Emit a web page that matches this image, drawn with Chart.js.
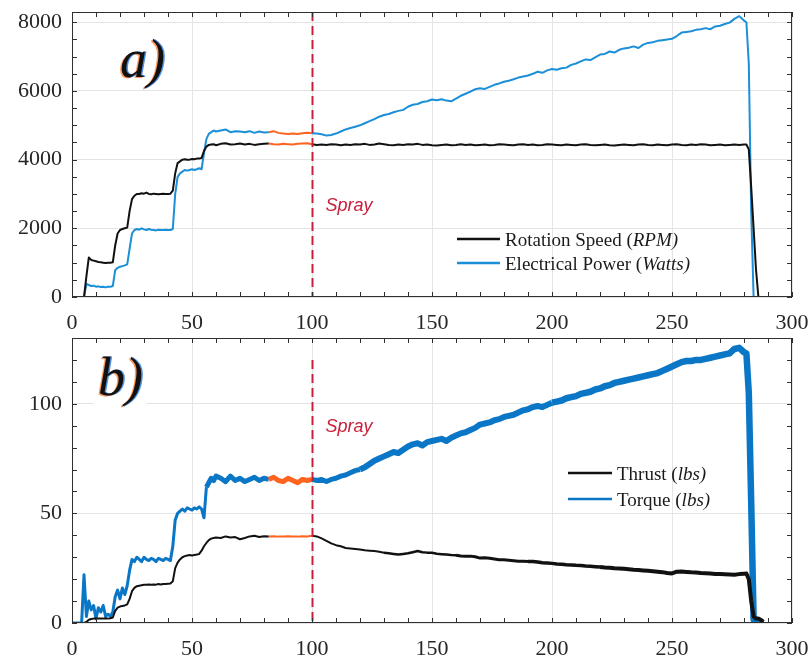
<!DOCTYPE html>
<html>
<head>
<meta charset="utf-8">
<script src="https://cdn.jsdelivr.net/npm/chart.js@4.4.1/dist/chart.umd.min.js"></script>
<style>
  body { margin: 0; background: #fff; }
  #wrap { position: relative; width: 810px; height: 657px; }
  canvas { position: absolute; left: 0; }
</style>
</head>
<body>
<div id="wrap">
  <canvas id="chartA" width="810" height="333" style="top:0"></canvas>
  <canvas id="chartB" width="810" height="324" style="top:333px"></canvas>
</div>
<script>
// time base (s), shared by both panels
const time = [
  0,1,2,3,4,5,6,7,8,9,
  10,11,12,13,14,15,16,17,18,19,
  20,21,22,23,24,25,26,27,28,29,
  30,31,32,33,34,35,36,37,38,39,
  40,41,42,43,44,45,46,47,48,49,
  50,51,52,53,54,55,56,57,58,59,
  60,
  62,64,66,68,70,72,74,76,78,80,
  82,84,86,88,90,92,94,96,98,100,
  102,104,106,108,110,112,114,116,118,120,
  122,124,126,128,130,132,134,136,138,140,
  142,144,146,148,150,152,154,156,158,160,
  162,164,166,168,170,172,174,176,178,180,
  182,184,186,188,190,192,194,196,198,200,
  202,204,206,208,210,212,214,216,218,220,
  222,224,226,228,230,232,234,236,238,240,
  242,244,246,248,250,252,254,256,258,260,
  262,264,266,268,270,272,274,276,278,280,
  281,282,283,284,285,286,287,288
];

// a) rotation speed (RPM)
const rpm = [
  0,0,0,0,0,0,600,1150,1080,1060,
  1040,1020,1010,1000,990,1000,1000,1010,1500,1850,
  1950,1980,2000,2020,2500,2850,2950,3000,3000,3020,
  3010,3040,3000,2990,3010,3000,2990,3000,3010,3000,
  3000,3010,3100,3600,3900,3950,4000,4010,4000,4000,
  4020,4010,4030,4030,4050,4250,4380,4430,4440,4450,
  4420,
  4460,4480,4440,4450,4470,4440,4460,4430,4450,4460,
  4470,4450,4440,4460,4450,4440,4460,4470,4480,4450,
  4430,4440,4430,4450,4440,4420,4440,4430,4450,4440,
  4460,4430,4440,4470,4450,4430,4420,4440,4430,4450,
  4440,4460,4430,4440,4420,4410,4430,4440,4420,4430,
  4450,4430,4440,4420,4430,4440,4420,4430,4450,4440,
  4430,4420,4440,4450,4430,4440,4420,4430,4450,4440,
  4430,4420,4440,4430,4420,4440,4450,4430,4420,4430,
  4440,4420,4410,4430,4440,4430,4420,4440,4450,4430,
  4420,4440,4430,4420,4440,4450,4430,4420,4440,4430,
  4450,4440,4420,4430,4440,4420,4430,4440,4430,4440,
  4440,4300,3200,2000,800,0,0,0
];

// a) electrical power (W)
const power = [
  0,0,0,0,0,0,380,350,320,330,
  300,310,290,300,280,300,300,320,780,850,
  880,900,920,950,1400,1850,1950,1980,1960,2000,
  1970,1950,1980,1960,1950,1940,1960,1950,1950,1960,
  1950,1950,1980,3000,3500,3600,3650,3700,3680,3700,
  3720,3700,3720,3750,3720,4200,4600,4750,4800,4850,
  4820,
  4850,4880,4800,4830,4820,4800,4830,4780,4820,4790,
  4800,4830,4780,4760,4750,4760,4750,4770,4780,4770,
  4760,4740,4700,4720,4760,4820,4880,4920,4960,5000,
  5060,5120,5180,5250,5300,5330,5380,5420,5450,5540,
  5600,5620,5680,5700,5750,5730,5760,5720,5700,5780,
  5860,5920,5980,6050,6080,6060,6120,6180,6220,6270,
  6300,6340,6390,6420,6450,6500,6560,6530,6600,6640,
  6620,6660,6680,6760,6800,6860,6920,6900,6980,7060,
  7080,7150,7120,7200,7240,7260,7300,7250,7350,7400,
  7420,7460,7480,7500,7520,7600,7700,7720,7740,7780,
  7800,7830,7800,7880,7900,7950,7990,8100,8180,8050,
  8000,6800,2500,0,0,0,0,0
];

// b) thrust (lbs)
const thrust = [
  0,0,0,0,0,0,0.5,1.5,1.8,2,
  2,2,2,2,2.2,2,2.2,2.5,5.5,7,
  7.5,7.8,8,8.5,11,14.5,16,16.8,17,17.2,
  17.4,17.5,17.6,17.5,17.6,17.5,17.8,17.6,17.8,17.8,
  17.9,18,19,25,27.5,29,30,30.5,30.8,31,
  30.8,31,31.2,31.5,33,35,36.5,37.8,38.5,38.8,
  39,
  38.8,39.5,39,39.2,38.2,38.8,39.5,39.8,39.2,39.6,
  39.5,39.6,39.4,39.5,39.6,39.5,39.4,39.6,39.5,39.8,
  39.5,38.6,37.5,36.3,35.5,35,34.2,34,33.8,33.5,
  33.2,33,32.8,32.5,32,31.8,31.5,31.2,31.5,31.8,
  32.3,32.8,32.3,32.1,32,31.6,31.4,31.2,31,30.9,
  30.6,30.4,30.5,30.2,29.6,29.8,29.5,29.2,28.9,28.8,
  28.6,28.4,28.2,28.2,28,28.1,27.8,27.5,27.4,27.2,
  26.9,26.8,26.6,26.5,26.3,26.2,26,25.9,25.7,25.5,
  25.3,25.2,25,24.9,24.7,24.5,24.3,24.2,24,23.8,
  23.6,23.4,23.2,22.8,22.6,23.4,23.5,23.3,23.1,23,
  22.8,22.7,22.6,22.4,22.3,22.2,22.1,22,22.3,22.5,
  22.6,20,10,3,2,2,1.5,0.5
];

// b) torque (lbs)
const torque = [
  0,0,0,0,0,22,3,10,6,8,
  2,7,5,8,3,4,3,5,12,15,
  11,16,13,17,24,29,28,30,29,28,
  30,29,28.5,29.5,29,28,29.5,29,28.5,29.5,
  29,28.5,35,47,50,51,52,51,52.5,52,
  51.5,52.5,52,53,52,48,62,64,66,65,
  67,
  66,64.5,67,65,66,64.5,65.5,66.5,65,66,
  65.5,66.5,65,64.5,66,65,64,65.5,65,65.5,
  65,65.5,64.5,65.5,66,67,67.5,68.5,69.5,70,
  71,72.5,74,75,76,77,78,77.5,79,80.5,
  81.5,82,81,82.5,83,83.5,84,83,84.5,85.5,
  86.5,87,88,89,90.5,91,91.5,92.5,93,94,
  94.5,95,96,97,97.5,98.5,99,98.5,99.5,100.5,
  101,101.5,102.5,103,103.5,104.5,105,105.5,106.5,107,
  108,108.5,109.5,110,110.5,111,111.5,112,112.5,113,
  113.5,114,115,116,117,118,119,119.5,119.5,120,
  120,120.5,121,121.5,122,122.5,123,125,125.5,123.5,
  123,105,55,1.5,1,1,0.5,0
];

const xTicks = [0, 50, 100, 150, 200, 250, 300];
const rpmTicks = [0, 2000, 4000, 6000, 8000];
const lbsTicks = [0, 50, 100];
const sprayTime = 100;
const steadyWindow = [82, 100];   // highlighted steady-state stretch before spray

const BLUE_A = '#1b8fd8';
const BLUE_B = '#0a76c6';
const ORANGE = '#ff6320';
const BLACK = '#111111';
const RED = '#c8203a';
const SERIF = '"Liberation Serif", "Times New Roman", serif';

function points(ys) {
  return ys.map((v, i) => ({ x: time[i], y: v }));
}

function inWindow(ctx) {
  return ctx.p0.parsed.x >= steadyWindow[0] && ctx.p1.parsed.x <= steadyWindow[1];
}

// widths: list of [fromTime, width] steps applied to segments
function series(label, ys, color, width, widths) {
  return {
    label: label,
    data: points(ys),
    borderColor: color,
    borderWidth: width,
    borderJoinStyle: 'round',
    pointRadius: 0,
    tension: 0,
    segment: {
      borderColor: ctx => inWindow(ctx) ? ORANGE : undefined,
      borderWidth: ctx => {
        let w;
        (widths || []).forEach(([from, bw]) => { if (ctx.p0.parsed.x >= from) w = bw; });
        return w;
      }
    }
  };
}

// frame, inward ticks, spray marker, legend and panel letter
const panelDecor = {
  id: 'panelDecor',
  afterDatasetsDraw(chart, args, o) {
    const { ctx, chartArea: a, scales: { x, y } } = chart;
    ctx.save();

    // spray marker
    const sx = Math.round(x.getPixelForValue(sprayTime)) + 0.5;
    ctx.strokeStyle = RED;
    ctx.lineWidth = 2;
    ctx.setLineDash([9, 5]);
    ctx.beginPath();
    ctx.moveTo(sx, y.getPixelForValue(o.sprayTop));
    ctx.lineTo(sx, a.bottom);
    ctx.stroke();
    ctx.setLineDash([]);
    ctx.fillStyle = RED;
    ctx.font = 'italic 18px "Liberation Sans", Arial, sans-serif';
    ctx.textBaseline = 'alphabetic';
    ctx.fillText('Spray', sx + 13, y.getPixelForValue(o.sprayLabelY));

    // box
    ctx.strokeStyle = '#303030';
    ctx.lineWidth = 1;
    ctx.strokeRect(a.left + 0.5, a.top + 0.5, a.width - 1, a.height - 1);

    // inward minor ticks on all four sides
    ctx.beginPath();
    for (let v = x.min; v <= x.max; v += o.minorX) {
      const px = Math.round(x.getPixelForValue(v)) + 0.5;
      ctx.moveTo(px, a.bottom); ctx.lineTo(px, a.bottom - 5);
      ctx.moveTo(px, a.top); ctx.lineTo(px, a.top + 5);
    }
    for (let v = y.min; v <= y.max; v += o.minorY) {
      const py = Math.round(y.getPixelForValue(v)) + 0.5;
      ctx.moveTo(a.left, py); ctx.lineTo(a.left + 5, py);
      ctx.moveTo(a.right, py); ctx.lineTo(a.right - 5, py);
    }
    ctx.stroke();

    // clear patch behind the letter
    if (o.letterPatch) {
      const p = o.letterPatch;
      ctx.fillStyle = '#ffffff';
      ctx.fillRect(p[0], p[1], p[2], p[3]);
    }

    // panel letter with slight colour fringe
    ctx.font = 'italic 54px ' + SERIF;
    ctx.fillStyle = 'rgba(255,120,40,0.75)';
    ctx.fillText(o.letter, o.letterX - 1.5, o.letterY + 1);
    ctx.fillStyle = 'rgba(20,110,220,0.75)';
    ctx.fillText(o.letter, o.letterX + 1.5, o.letterY);
    ctx.fillStyle = '#111';
    ctx.fillText(o.letter, o.letterX, o.letterY);

    // legend
    o.legend.forEach((item, i) => {
      const ds = chart.data.datasets[i];
      const ly = o.legendY[i];
      ctx.strokeStyle = ds.borderColor;
      ctx.lineWidth = 2.5;
      ctx.beginPath();
      ctx.moveTo(o.legendX0, ly);
      ctx.lineTo(o.legendX1, ly);
      ctx.stroke();
      let tx = o.legendX1 + 5;
      ctx.fillStyle = '#1a1a1a';
      item.forEach(([txt, style]) => {
        ctx.font = style + ' 19px ' + SERIF;
        ctx.fillText(txt, tx, ly + 7);
        tx += ctx.measureText(txt).width;
      });
    });

    ctx.restore();
  }
};

function noEdgePadding(s) {
  s.paddingLeft = 0; s.paddingRight = 0;
  s.paddingTop = 0; s.paddingBottom = 0;
}

function makePanel(id, datasets, yMax, yTicks, xHeight, padTop, decor) {
  return new Chart(document.getElementById(id).getContext('2d'), {
    type: 'line',
    data: { datasets: datasets },
    options: {
      responsive: false,
      animation: false,
      devicePixelRatio: 1,
      layout: { padding: { top: padTop, right: 18, left: 0, bottom: 0 } },
      plugins: {
        legend: { display: false },
        tooltip: { enabled: false },
        panelDecor: decor
      },
      scales: {
        x: {
          type: 'linear',
          min: 0,
          max: 300,
          afterBuildTicks: s => { s.ticks = xTicks.map(v => ({ value: v })); },
          afterFit: s => { s.height = xHeight; noEdgePadding(s); },
          border: { display: false },
          grid: { color: '#e4e4e4', drawTicks: false },
          ticks: {
            padding: 13,
            color: '#262626',
            font: { family: SERIF, size: 22 },
            callback: v => String(v)
          }
        },
        y: {
          min: 0,
          max: yMax,
          afterBuildTicks: s => { s.ticks = yTicks.map(v => ({ value: v })); },
          afterFit: s => { s.width = 72; noEdgePadding(s); },
          border: { display: false },
          grid: { color: '#e4e4e4', drawTicks: false },
          ticks: {
            padding: 10,
            color: '#262626',
            font: { family: SERIF, size: 22 },
            callback: v => String(v)
          }
        }
      }
    },
    plugins: [panelDecor]
  });
}

makePanel('chartA', [
  series('Rotation Speed (RPM)', rpm, BLACK, 2),
  series('Electrical Power (Watts)', power, BLUE_A, 2)
], 8300, rpmTicks, 36, 12, {
  sprayTop: 8300, sprayLabelY: 2500,
  minorX: 10, minorY: 500,
  letter: 'a)', letterX: 120, letterY: 77,
  legend: [
    [['Rotation Speed (', ''], ['RPM)', 'italic']],
    [['Electrical Power (', ''], ['Watts)', 'italic']]
  ],
  legendX0: 457, legendX1: 500, legendY: [239, 263]
});

// noisy signals in panel b are drawn as wider bands
makePanel('chartB', [
  series('Thrust (lbs)', thrust, BLACK, 2, [[130, 2.5], [160, 3], [190, 3.5], [220, 4]]),
  series('Torque (lbs)', torque, BLUE_B, 3, [[56, 5], [120, 6], [200, 6.5]])
], 130, lbsTicks, 34, 5, {
  sprayTop: 120, sprayLabelY: 87,
  minorX: 10, minorY: 10,
  letter: 'b)', letterX: 98, letterY: 62,
  letterPatch: [94, 11, 52, 67],
  legend: [
    [['Thrust (', ''], ['lbs)', 'italic']],
    [['Torque (', ''], ['lbs)', 'italic']]
  ],
  legendX0: 568, legendX1: 612, legendY: [140, 166]
});
</script>
</body>
</html>
